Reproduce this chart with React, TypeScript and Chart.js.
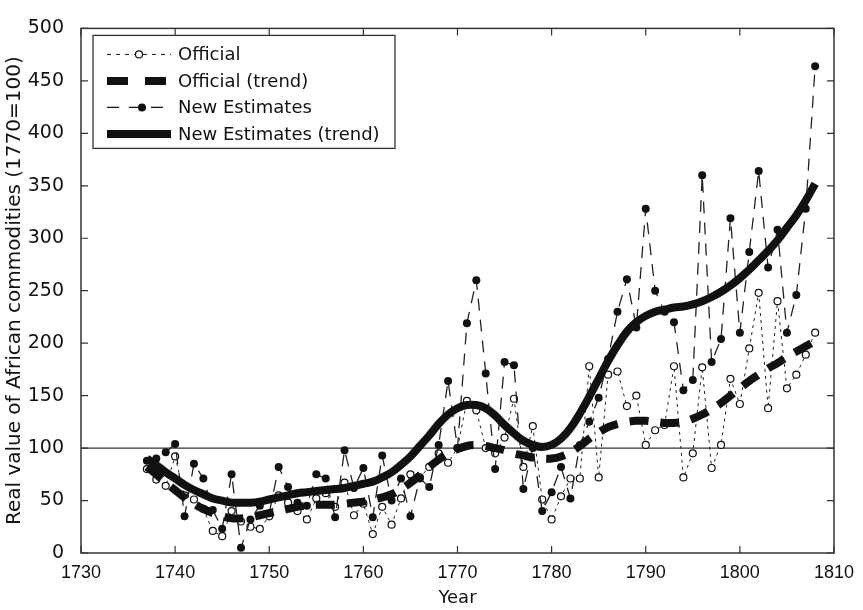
import { useEffect, useRef } from 'react';
import { Chart, registerables } from 'chart.js';

Chart.register(...registerables);

const YEARS = [
  1737, 1738, 1739, 1740, 1741, 1742, 1743, 1744, 1745, 1746, 1747, 1748,
  1749, 1750, 1751, 1752, 1753, 1754, 1755, 1756, 1757, 1758, 1759, 1760,
  1761, 1762, 1763, 1764, 1765, 1766, 1767, 1768, 1769, 1770, 1771, 1772,
  1773, 1774, 1775, 1776, 1777, 1778, 1779, 1780, 1781, 1782, 1783, 1784,
  1785, 1786, 1787, 1788, 1789, 1790, 1791, 1792, 1793, 1794, 1795, 1796,
  1797, 1798, 1799, 1800, 1801, 1802, 1803, 1804, 1805, 1806, 1807, 1808,
];

const OFFICIAL = [
  80, 70, 64, 92, 55, 51, 42, 21, 16, 40, 30, 25,
  23, 35, 55, 48, 40, 32, 52, 57, 44, 67, 36, 47,
  18, 44, 27, 52, 75, 72, 82, 95, 86, 100, 145, 136,
  100, 95, 110, 147, 82, 121, 51, 32, 54, 71, 71, 178,
  72, 170, 173, 140, 150, 103, 117, 122, 178, 72, 95, 177,
  81, 103, 166, 142, 195, 248, 138, 240, 157, 170, 189, 210,
];

const OFFICIAL_TREND = [
  82, 75, 67, 60, 53, 47, 42, 38, 35, 33, 33, 34,
  36, 38, 40, 42, 44, 45, 46, 46, 46, 47, 48, 49,
  51, 53, 56, 61, 67, 74, 82, 89, 95, 99, 102, 103,
  102, 100, 98, 95, 93, 91, 90, 90, 92, 96, 102, 109,
  115, 120, 123, 125, 126, 126, 125, 124, 124, 125, 128, 132,
  137, 143, 150, 157, 164, 170, 176, 181, 187, 192, 197, 202,
];

const NEW_ESTIMATES = [
  88, 90, 96, 104, 35, 85, 71, 41, 23, 75, 5, 32,
  45, 38, 82, 63, 48, 45, 75, 71, 34, 98, 62, 81,
  34, 93, 50, 71, 35, 71, 63, 103, 164, 100, 219, 260,
  171, 80, 182, 179, 61, 100, 40, 58, 82, 52, 103, 125,
  148, 185, 230, 261, 215, 328, 250, 230, 220, 155, 165, 360,
  182, 204, 319, 210, 287, 364, 272, 308, 210, 246, 328, 464,
];

const NEW_TREND = [
  90, 84, 77, 71, 65, 60, 56, 52, 50, 48, 48, 48,
  49, 51, 53, 55, 57, 58, 59, 60, 61, 62, 64, 66,
  68, 72, 77, 84, 92, 102, 112, 123, 132, 138, 141, 141,
  138, 131, 122, 114, 107, 103, 101, 103, 109, 119, 133, 149,
  166, 183, 198, 211, 220, 226, 230, 232, 234, 235, 237, 240,
  244, 249, 255, 262, 270, 279, 288, 298, 310, 322, 336, 352,
];

const LABELS = ['Official', 'Official (trend)', 'New Estimates', 'New Estimates (trend)'];
const BASE_INDEX = 100;
const X_MIN = 1730;
const X_MAX = 1810;
const X_STEP = 10;
const Y_MIN = 0;
const Y_MAX = 500;
const Y_STEP = 50;

const INK = '#111';
const SANS = '"DejaVu Sans", "Liberation Sans", sans-serif';
const NARROW = '"Liberation Sans Narrow", "Liberation Sans", sans-serif';

const toPoints = (vals: number[]) => YEARS.map((yr, i) => ({ x: yr, y: vals[i] }));

const framePlugin = {
  id: 'frameAndLegend',
  beforeDatasetsDraw(chart: any) {
    const { ctx, chartArea, scales } = chart;
    const yb = scales.y.getPixelForValue(BASE_INDEX);
    ctx.save();
    ctx.strokeStyle = '#333';
    ctx.lineWidth = 1.3;
    ctx.beginPath();
    ctx.moveTo(chartArea.left, yb);
    ctx.lineTo(chartArea.right, yb);
    ctx.stroke();
    ctx.restore();
  },
  afterDraw(chart: any) {
    const { ctx, chartArea, scales } = chart;
    const { left, right, top, bottom } = chartArea;
    ctx.save();
    ctx.strokeStyle = '#333';
    ctx.lineWidth = 1.5;
    ctx.setLineDash([]);
    ctx.strokeRect(left, top, right - left, bottom - top);
    const tl = 7;
    ctx.lineWidth = 1.2;
    ctx.beginPath();
    scales.x.ticks.forEach((t: any) => {
      const px = scales.x.getPixelForValue(t.value);
      ctx.moveTo(px, bottom);
      ctx.lineTo(px, bottom - tl);
      ctx.moveTo(px, top);
      ctx.lineTo(px, top + tl);
    });
    scales.y.ticks.forEach((t: any) => {
      const py = scales.y.getPixelForValue(t.value);
      ctx.moveTo(left, py);
      ctx.lineTo(left + tl, py);
      ctx.moveTo(right, py);
      ctx.lineTo(right - tl, py);
    });
    ctx.stroke();

    // legend
    const bx = left + 12;
    const by = top + 7;
    const bw = 302;
    const bh = 113;
    ctx.fillStyle = '#fff';
    ctx.fillRect(bx, by, bw, bh);
    ctx.strokeStyle = '#333';
    ctx.lineWidth = 1.3;
    ctx.strokeRect(bx, by, bw, bh);
    const s0 = bx + 14;
    const s1 = bx + 78;
    const mid = (s0 + s1) / 2;
    const ds = chart.data.datasets;
    for (let i = 0; i < 4; i++) {
      const ry = by + 19 + i * 26.5;
      ctx.save();
      ctx.strokeStyle = INK;
      if (i === 0) {
        ctx.lineWidth = 1;
        ctx.setLineDash([4, 5]);
        ctx.beginPath(); ctx.moveTo(s0, ry); ctx.lineTo(s1, ry); ctx.stroke();
        ctx.setLineDash([]);
        ctx.fillStyle = '#fff';
        ctx.lineWidth = 1.2;
        ctx.beginPath(); ctx.arc(mid, ry, 3.5, 0, Math.PI * 2); ctx.fill(); ctx.stroke();
      } else if (i === 1) {
        ctx.lineWidth = 8;
        ctx.setLineDash([21, 17]);
        ctx.beginPath(); ctx.moveTo(s0, ry); ctx.lineTo(s1, ry); ctx.stroke();
      } else if (i === 2) {
        ctx.lineWidth = 1.3;
        ctx.setLineDash([12, 10]);
        ctx.beginPath(); ctx.moveTo(s0, ry); ctx.lineTo(s1, ry); ctx.stroke();
        ctx.setLineDash([]);
        ctx.fillStyle = INK;
        ctx.beginPath(); ctx.arc(mid + 3, ry, 4, 0, Math.PI * 2); ctx.fill();
      } else {
        ctx.lineWidth = 8;
        ctx.beginPath(); ctx.moveTo(s0, ry); ctx.lineTo(s1, ry); ctx.stroke();
      }
      ctx.restore();
      ctx.fillStyle = INK;
      ctx.font = '18px ' + SANS;
      ctx.textBaseline = 'middle';
      ctx.textAlign = 'left';
      ctx.fillText(ds[i].label, s1 + 7, ry + 1);
    }
    ctx.restore();
  },
};

export default function App() {
  const ref = useRef<HTMLCanvasElement | null>(null);
  useEffect(() => {
    if (!ref.current) return;
    const chart = new Chart(ref.current, {
      type: 'line',
      data: {
        datasets: [
          {
            label: LABELS[0],
            data: toPoints(OFFICIAL),
            borderColor: '#222',
            borderWidth: 1,
            borderDash: [3, 4],
            pointRadius: 3.5,
            pointBackgroundColor: '#fff',
            pointBorderColor: INK,
            pointBorderWidth: 1.2,
            tension: 0,
            order: 4,
          },
          {
            label: LABELS[1],
            data: toPoints(OFFICIAL_TREND),
            borderColor: INK,
            borderWidth: 8,
            borderDash: [19, 12],
            pointRadius: 0,
            tension: 0.4,
            order: 2,
          },
          {
            label: LABELS[2],
            data: toPoints(NEW_ESTIMATES),
            borderColor: '#222',
            borderWidth: 1.3,
            borderDash: [12, 9],
            pointRadius: 4,
            pointBackgroundColor: INK,
            pointBorderColor: INK,
            pointBorderWidth: 0,
            tension: 0,
            order: 3,
          },
          {
            label: LABELS[3],
            data: toPoints(NEW_TREND),
            borderColor: INK,
            borderWidth: 8,
            pointRadius: 0,
            tension: 0.4,
            order: 1,
          },
        ],
      },
      options: {
        animation: false,
        responsive: false,
        maintainAspectRatio: false,
        layout: { padding: { left: 0, right: 24, top: 15, bottom: 0 } },
        plugins: { legend: { display: false }, tooltip: { enabled: false } },
        scales: {
          x: {
            type: 'linear',
            min: X_MIN,
            max: X_MAX,
            grid: { display: false, drawTicks: false },
            border: { display: false },
            ticks: {
              stepSize: X_STEP,
              autoSkip: false,
              maxRotation: 0,
              padding: 9,
              color: INK,
              font: { family: NARROW, size: 18 },
              callback: (v: any) => String(v),
            },
            title: {
              display: true,
              text: 'Year',
              color: INK,
              font: { family: SANS, size: 18 },
              padding: { top: 0, bottom: 1 },
            },
            afterFit: (s: any) => { s.height = 57; },
          },
          y: {
            min: Y_MIN,
            max: Y_MAX,
            grid: { display: false, drawTicks: false },
            border: { display: false },
            ticks: {
              stepSize: Y_STEP,
              padding: 17,
              color: INK,
              font: { family: SANS, size: 19 },
            },
            title: {
              display: true,
              text: 'Real value of African commodities (1770=100)',
              color: INK,
              font: { family: SANS, size: 20 },
              padding: { top: 3, bottom: 0 },
            },
            afterFit: (s: any) => { s.width = 81; },
          },
        },
      },
      plugins: [framePlugin],
    });
    return () => chart.destroy();
  }, []);
  return (
    <div style={{ position: 'absolute', left: 0, top: 0, width: 863, height: 610, background: '#fff' }}>
      <canvas ref={ref} width={863} height={610} style={{ display: 'block', width: 863, height: 610 }} />
    </div>
  );
}
